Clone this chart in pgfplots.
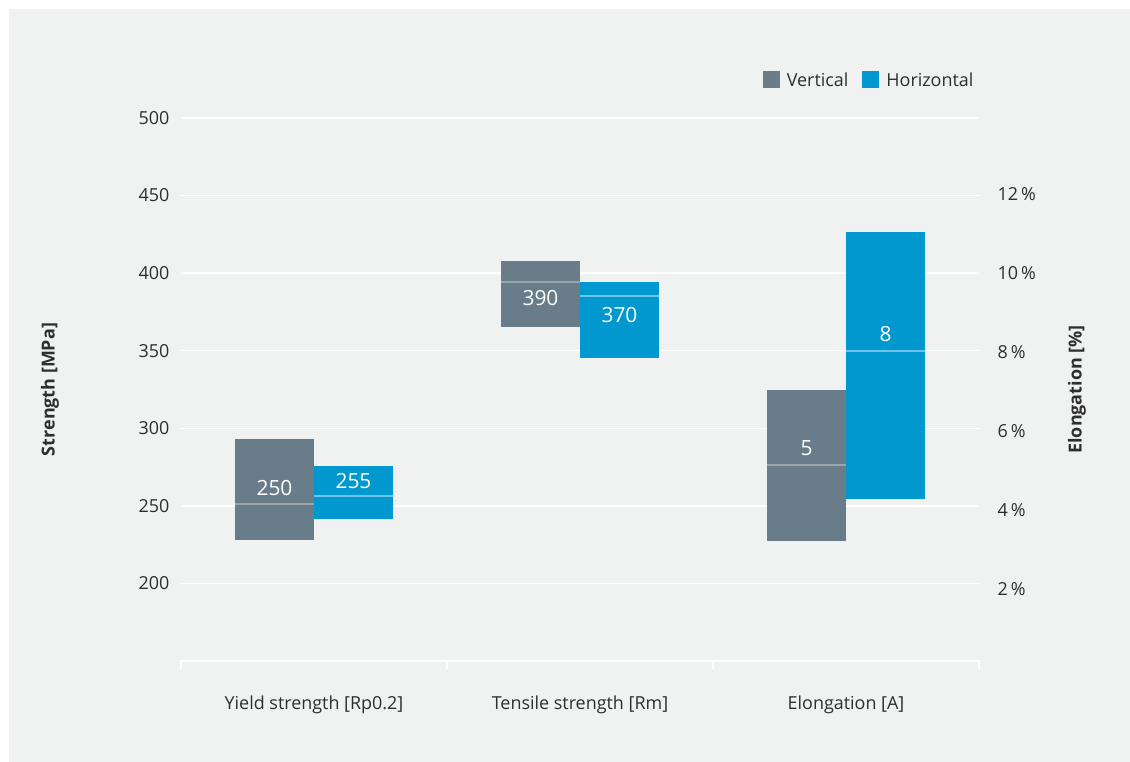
\documentclass[border=0pt]{standalone}
\usepackage{pgfplots}
\pgfplotsset{compat=1.18}
\usepackage{fontspec}
\setmainfont{Open Sans}
\definecolor{bgc}{HTML}{F0F1F1}
\definecolor{vgray}{HTML}{687C89}
\definecolor{hblue}{HTML}{0098CE}
\definecolor{vmed}{HTML}{9AA4AB}
\definecolor{hmed}{HTML}{6CC4E8}
\definecolor{txt}{HTML}{2E2E2E}
\tikzset{val/.style={text=white, font=\fontsize{21}{24}\selectfont, inner sep=0pt}}
\pgfplotsset{
  vbox/.style={draw=none, fill=vgray},
  hbox/.style={draw=none, fill=hblue},
  vmedl/.style={draw=vmed, line width=2bp},
  hmedl/.style={draw=hmed, line width=2bp},
}
\begin{document}
\begin{tikzpicture}
\fill[white] (0bp,0bp) rectangle (1130bp,762bp);
\fill[bgc] (9bp,0bp) rectangle (1130bp,753bp);
\begin{axis}[
  at={(181bp,101bp)}, anchor=south west,
  scale only axis, width=798bp, height=543bp,
  xmin=-0.5, xmax=2.5, ymin=150, ymax=500,
  axis x line*=bottom, axis y line*=left,
  y axis line style={draw=none},
  x axis line style={white, line width=1.6bp},
  xtick={-0.5,0.5,1.5,2.5}, xticklabels={},
  extra x ticks={0,1,2},
  extra x tick labels={Yield strength [Rp0.2], Tensile strength [Rm], Elongation [A]},
  extra x tick style={major tick length=0pt, xticklabel style={yshift=-31bp}},
  tick align=outside, major tick length=8bp,
  x tick style={white, line width=1.6bp},
  ytick={200,250,...,500}, y tick style={draw=none},
  ymajorgrids, grid style={white, line width=1.3bp},
  tick label style={font=\fontsize{18}{21}\selectfont, text=txt},
  /pgf/number format/assume math mode=true,
  ylabel={Strength [MPa]},
  ylabel style={at={(axis description cs:-0.1642,0.5)}, anchor=center, font=\fontsize{18}{21}\selectfont\bfseries, text=txt},
  legend columns=2,
  legend style={at={(axis description cs:0.9995,1.07)}, anchor=east, draw=none, fill=none,
    font=\fontsize{18}{21}\selectfont, text=txt,
    /tikz/every even column/.append style={column sep=12bp}},
  legend image code/.code={\fill[#1] (0bp,-8.5bp) rectangle (17bp,8.5bp); \path (22bp,0bp);},
]
\addlegendimage{fill=vgray, draw=none}
\addlegendentry{Vertical}
\addlegendimage{fill=hblue, draw=none}
\addlegendentry{Horizontal}
% Yield strength: vertical (low 228.3, median 251.5, high 293.3)
\addplot[vbox] coordinates {(-0.297,228.3) (0,228.3) (0,293.3) (-0.297,293.3)} -- cycle;
\addplot[vmedl] coordinates {(-0.297,251.5) (0,251.5)};
% Yield strength: horizontal (low 241.8, median 256.6, high 275.9)
\addplot[hbox] coordinates {(0,241.8) (0.297,241.8) (0.297,275.9) (0,275.9)} -- cycle;
\addplot[hmedl] coordinates {(0,256.6) (0.297,256.6)};
% Tensile strength: vertical (low 365.4, median 394.3, high 407.8)
\addplot[vbox] coordinates {(0.703,365.4) (1,365.4) (1,407.8) (0.703,407.8)} -- cycle;
\addplot[vmedl] coordinates {(0.703,394.3) (1,394.3)};
% Tensile strength: horizontal (low 345.4, median 385.3, high 394.3)
\addplot[hbox] coordinates {(1,345.4) (1.297,345.4) (1.297,394.3) (1,394.3)} -- cycle;
\addplot[hmedl] coordinates {(1,385.3) (1.297,385.3)};
\node[val] at (axis cs:-0.1485,261.8) {250};
\node[val] at (axis cs:0.1485,266.3) {255};
\node[val] at (axis cs:0.8515,384.0) {390};
\node[val] at (axis cs:1.1485,373.1) {370};
\end{axis}
\begin{axis}[
  at={(181bp,101bp)}, anchor=south west,
  scale only axis, width=798bp, height=543bp,
  xmin=-0.5, xmax=2.5, ymin=0.177, ymax=13.924,
  axis x line=none, axis y line*=right,
  y axis line style={draw=none},
  ytick={2,4,...,12},
  yticklabels={2\,\%,4\,\%,6\,\%,8\,\%,10\,\%,12\,\%},
  tick align=outside, major tick length=8bp, y tick style={draw=none},
  tick label style={font=\fontsize{18}{21}\selectfont, text=txt},
  yticklabel style={xshift=7bp},
  ylabel={Elongation [\%]},
  ylabel style={at={(axis description cs:1.1228,0.5)}, anchor=center, font=\fontsize{18}{21}\selectfont\bfseries, text=txt},
]
% Elongation: vertical (low 3.22, median 5.14, high 7.04)
\addplot[vbox] coordinates {(1.703,3.22) (2,3.22) (2,7.04) (1.703,7.04)} -- cycle;
\addplot[vmedl] coordinates {(1.703,5.14) (2,5.14)};
% Elongation: horizontal (low 4.28, median 8.03, high 11.04)
\addplot[hbox] coordinates {(2,4.28) (2.297,4.28) (2.297,11.04) (2,11.04)} -- cycle;
\addplot[hmedl] coordinates {(2,8.03) (2.297,8.03)};
\node[val] at (axis cs:1.8515,5.57) {5};
\node[val] at (axis cs:2.1485,8.46) {8};
\end{axis}
\end{tikzpicture}
\end{document}
